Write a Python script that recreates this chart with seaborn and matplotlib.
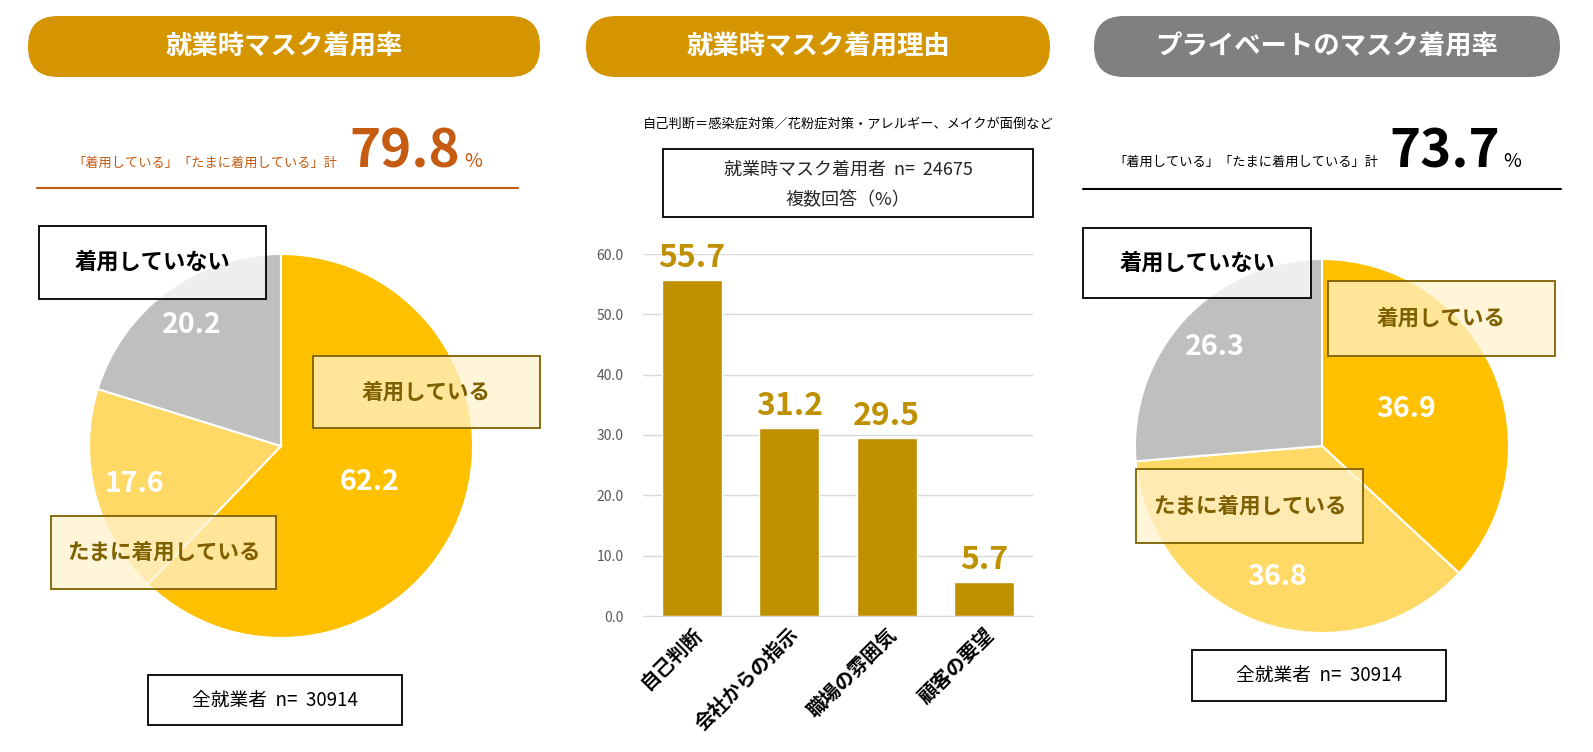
import numpy as np
import matplotlib.pyplot as plt
import seaborn as sns
from matplotlib.patches import FancyBboxPatch, Rectangle

sns.set_style("white")
plt.rcParams['font.family'] = ['Noto Sans CJK JP', 'DejaVu Sans']

# Data
pie_labels = ["着用している", "たまに着用している", "着用していない"]
work_pct = [62.2, 17.6, 20.2]
private_pct = [36.9, 36.8, 26.3]
work_total = "79.8"
private_total = "73.7"
reasons = ["自己判断", "会社からの指示", "職場の雰囲気", "顧客の要望"]
reason_pct = [55.7, 31.2, 29.5, 5.7]
n_all = "全就業者  n=  30914"
n_mask = "就業時マスク着用者  n=  24675"

# Colours
gold = "#D49500"
bar_col = "#BF9000"
pie_cols = ["#FFC000", "#FFD966", "#BFBFBF"]
brown = "#7F6000"
orange = "#C55A11"

W, H = 1593, 752
fig = plt.figure(figsize=(W / 100, H / 100), dpi=100)


def px_axes(x0, y0, x1, y1):
    # axes from pixel box (top-left origin)
    return fig.add_axes([x0 / W, 1 - y1 / H, (x1 - x0) / W, (y1 - y0) / H])


# overlay for banners, boxes and texts
ov = fig.add_axes([0, 0, 1, 1])
ov.set_xlim(0, W)
ov.set_ylim(H, 0)
ov.axis("off")
ov.set_zorder(10)
ov.patch.set_alpha(0)


def banner(x0, x1, y0, y1, text, col):
    ov.add_patch(FancyBboxPatch((x0, y0), x1 - x0, y1 - y0,
                                boxstyle="round,pad=0,rounding_size=30",
                                fc=col, ec="none"))
    ov.text((x0 + x1) / 2, (y0 + y1) / 2 + 1, text, color="white", fontsize=19,
            fontweight="bold", ha="center", va="center")


def box(x0, x1, y0, y1, text, fc, ec, tc, fs, bold=True, alpha=1.0):
    ov.add_patch(Rectangle((x0, y0), x1 - x0, y1 - y0, fc=fc, ec="none", alpha=alpha))
    ov.add_patch(Rectangle((x0, y0), x1 - x0, y1 - y0, fc="none", ec=ec, lw=1.3))
    ov.text((x0 + x1) / 2, (y0 + y1) / 2, text, color=tc, fontsize=fs,
            fontweight="bold" if bold else "normal", ha="center", va="center")


banner(28, 540, 16, 77, "就業時マスク着用率", gold)
banner(586, 1050, 16, 77, "就業時マスク着用理由", gold)
banner(1094, 1560, 16, 77, "プライベートのマスク着用率", "#808080")

# totals
sub = "「着用している」「たまに着用している」計"
ov.text(337, 167, sub, color=orange, fontsize=9.5, ha="right", va="baseline")
ov.text(349, 168, work_total, color=orange, fontsize=38, fontweight="bold", va="baseline")
ov.text(464, 167, "%", color=orange, fontsize=14, va="baseline")
ov.plot([37, 518], [188, 188], color=orange, lw=1.5)

ov.text(1378, 166, sub, color="black", fontsize=9.5, ha="right", va="baseline")
ov.text(1389, 168, private_total, color="black", fontsize=38, fontweight="bold", va="baseline")
ov.text(1503, 167, "%", color="black", fontsize=14, va="baseline")
ov.plot([1083, 1561], [189, 189], color="black", lw=1.5)


def draw_pie(cx, cy, r, vals, dists):
    ax = px_axes(cx - r, cy - r, cx + r, cy + r)
    wedges, _ = ax.pie(vals, colors=pie_cols, startangle=90, counterclock=False,
                       radius=1, wedgeprops=dict(edgecolor="white", linewidth=1.5))
    for w, v, d in zip(wedges, vals, dists):
        ang = np.deg2rad((w.theta1 + w.theta2) / 2)
        ax.text(d * np.cos(ang), d * np.sin(ang), f"{v:.1f}", color="white",
                fontsize=20.5, fontweight="bold", ha="center", va="center")
    ax.set_xlim(-1, 1)
    ax.set_ylim(-1, 1)
    ax.set_aspect("equal")
    ax.axis("off")
    return ax


draw_pie(281, 446, 192, work_pct, [0.5, 0.79, 0.78])
draw_pie(1322, 446, 187, private_pct, [0.49, 0.74, 0.78])

# pie label boxes
cream = "#FFF2CC"
box(39, 266, 226, 299, pie_labels[2], "white", "black", "black", 16, alpha=0.75)
box(313, 540, 356, 428, pie_labels[0], cream, brown, brown, 15.5, alpha=0.75)
box(51, 276, 516, 589, pie_labels[1], cream, brown, brown, 15.5, alpha=0.75)
box(148, 402, 675, 725, n_all, "white", "black", "black", 13.5, bold=False)

box(1083, 1311, 228, 298, pie_labels[2], "white", "black", "black", 16, alpha=0.75)
box(1328, 1555, 281, 356, pie_labels[0], cream, brown, brown, 15.5, alpha=0.75)
box(1136, 1363, 469, 543, pie_labels[1], cream, brown, brown, 15.5, alpha=0.75)
box(1192, 1446, 650, 701, n_all, "white", "black", "black", 13.5, bold=False)

# bar panel
ov.text(848, 124, "自己判断＝感染症対策／花粉症対策・アレルギー、メイクが面倒など",
        fontsize=9.5, ha="center", va="center", color="black")
ov.add_patch(Rectangle((663, 149), 370, 68, fc="white", ec="black", lw=1.3))
ov.text(848, 170, n_mask, fontsize=13, ha="center", va="center")
ov.text(848, 200, "複数回答（%）", fontsize=13, ha="center", va="center")

bx = px_axes(643, 254, 1033, 616)
sns.barplot(x=reasons, y=reason_pct, color=bar_col, width=0.62, saturation=1, ax=bx)
bx.bar_label(bx.containers[0], fmt="%.1f", padding=4, color=bar_col,
             fontsize=23, fontweight="bold", clip_on=False)
bx.set_ylim(0, 60)
bx.set_xlim(-0.5, 3.5)
bx.set_yticks(np.arange(0, 61, 10))
bx.set_yticklabels([f"{t:.1f}" for t in np.arange(0, 61, 10)], color="#595959", fontsize=10)
bx.yaxis.grid(True, color="#D9D9D9", lw=1)
bx.set_axisbelow(True)
for s in ["left", "top", "right"]:
    bx.spines[s].set_visible(False)
bx.spines["bottom"].set_color("#D9D9D9")
bx.tick_params(axis="y", length=0, pad=14)
bx.tick_params(axis="x", which="major", length=0, pad=6)
bx.set_xticks(np.arange(-0.5, 4, 1), minor=True)
bx.tick_params(axis="x", which="minor", length=6, color="#D9D9D9", direction="out")
bx.set_xticklabels(reasons, rotation=45, ha="right", rotation_mode="anchor",
                   fontsize=14, fontweight="bold", color="black")
bx.set_xlabel("")
bx.set_ylabel("")

fig.savefig("out.png", dpi=100, facecolor="white")
